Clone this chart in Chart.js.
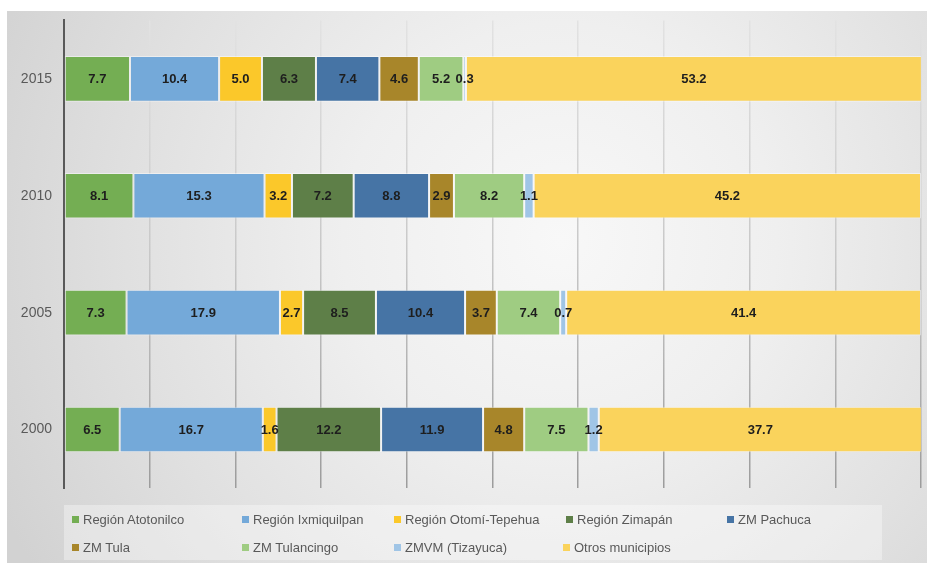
<!DOCTYPE html>
<html>
<head>
<meta charset="utf-8">
<script src="https://cdn.jsdelivr.net/npm/chart.js@4"></script>
<style>
  html, body { margin: 0; padding: 0; background: #ffffff; }
  #wrap { position: relative; width: 927px; height: 563px; overflow: hidden; }
  #c { position: absolute; left: 0; top: 0; }
  #legend { position: absolute; left: 64px; top: 505px; width: 818px; height: 55px; background: rgba(255,255,255,0.35); }
  .li { position: absolute; font-family: "Liberation Sans", Arial, sans-serif; font-size: 13px; color: #595959; white-space: nowrap; line-height: 16px; }
  .sw { display: inline-block; width: 7px; height: 7px; margin-right: 4px; vertical-align: 1px; }
</style>
</head>
<body>
<div id="wrap">
  <canvas id="c" width="927" height="563"></canvas>
  <div id="legend"></div>
</div>
<script>
const categories = ['2015', '2010', '2005', '2000'];

const seriesNames = [
  'Región Atotonilco', 'Región Ixmiquilpan', 'Región Otomí-Tepehua', 'Región Zimapán',
  'ZM Pachuca', 'ZM Tula', 'ZM Tulancingo', 'ZMVM (Tizayuca)', 'Otros municipios'
];

const regionAtotonilco   = [7.7, 8.1, 7.3, 6.5];
const regionIxmiquilpan  = [10.4, 15.3, 17.9, 16.7];
const regionOtomi        = [5.0, 3.2, 2.7, 1.6];
const regionZimapan      = [6.3, 7.2, 8.5, 12.2];
const zmPachuca          = [7.4, 8.8, 10.4, 11.9];
const zmTula             = [4.6, 2.9, 3.7, 4.8];
const zmTulancingo       = [5.2, 8.2, 7.4, 7.5];
const zmvmTizayuca       = [0.3, 1.1, 0.7, 1.2];
const otrosMunicipios    = [53.2, 45.2, 41.4, 37.7];

const xTicks = [0, 10, 20, 30, 40, 50, 60, 70, 80, 90, 100];

const seriesValues = [regionAtotonilco, regionIxmiquilpan, regionOtomi, regionZimapan,
  zmPachuca, zmTula, zmTulancingo, zmvmTizayuca, otrosMunicipios];

const colors = ['#74ae53', '#74a9d9', '#fbc82a', '#5e7f48', '#4674a5', '#a8862a', '#9fcc82', '#a0c5e6', '#fad35c'];

const datasets = seriesNames.map((name, i) => ({
  label: name,
  data: seriesValues[i],
  backgroundColor: colors[i],
  borderColor: 'rgba(255,255,255,0.45)',
  borderWidth: 1,
  borderSkipped: false,
  categoryPercentage: 1,
  barPercentage: 0.39
}));

const bgPlugin = {
  id: 'bg',
  beforeDraw(chart) {
    const ctx = chart.ctx;
    ctx.save();
    ctx.fillStyle = '#ffffff';
    ctx.fillRect(0, 0, chart.width, chart.height);
    const g = ctx.createRadialGradient(560, 240, 0, 560, 240, 620);
    g.addColorStop(0, '#f8f8f8');
    g.addColorStop(0.35, '#efefef');
    g.addColorStop(0.7, '#e0e0e0');
    g.addColorStop(1, '#d2d2d2');
    ctx.fillStyle = g;
    ctx.fillRect(7, 11, chart.width - 7, chart.height - 11);
    ctx.restore();
  }
};

const labelPlugin = {
  id: 'valueLabels',
  afterDatasetsDraw(chart) {
    const ctx = chart.ctx;
    ctx.save();
    ctx.font = 'bold 13px "Liberation Sans", Arial, sans-serif';
    ctx.fillStyle = '#1e1e1e';
    ctx.textAlign = 'center';
    ctx.textBaseline = 'middle';
    chart.data.datasets.forEach((ds, i) => {
      const meta = chart.getDatasetMeta(i);
      meta.data.forEach((el, j) => {
        const v = ds.data[j];
        const cx = (el.x + el.base) / 2;
        ctx.fillText(v.toFixed(1), cx, el.y + 1);
      });
    });
    ctx.restore();
  }
};

function gridColor(context) {
  const chart = context.chart;
  const ca = chart.chartArea;
  if (!ca) return '#c8c8c8';
  const g = chart.ctx.createLinearGradient(0, ca.top, 0, ca.bottom);
  g.addColorStop(0, '#e2e2e2');
  g.addColorStop(0.5, '#c8c8c8');
  g.addColorStop(1, '#9c9c9c');
  return g;
}

new Chart(document.getElementById('c'), {
  type: 'bar',
  data: { labels: categories, datasets: datasets },
  options: {
    indexAxis: 'y',
    responsive: false,
    animation: false,
    layout: { padding: { left: 0, top: 20, right: 6, bottom: 75 } },
    plugins: {
      legend: { display: false },
      tooltip: { enabled: false }
    },
    scales: {
      x: {
        stacked: true,
        min: 0,
        max: 100,
        afterBuildTicks(scale) { scale.ticks = xTicks.map(v => ({ value: v })); },
        afterFit(scale) { scale.height = 0; },
        ticks: { display: false },
        grid: { color: gridColor, lineWidth: 1.5, drawTicks: false },
        border: { display: false }
      },
      y: {
        stacked: true,
        afterFit(scale) { scale.width = 64; },
        ticks: {
          color: '#595959',
          padding: 12,
          font: { family: '"Liberation Sans", Arial, sans-serif', size: 14 }
        },
        grid: { display: false, drawTicks: false },
        border: { display: true, color: '#595959', width: 2 }
      }
    }
  },
  plugins: [bgPlugin, labelPlugin]
});

// HTML legend
const legendPos = [
  [8, 15], [178, 15], [330, 15], [502, 15], [663, 15],
  [8, 43], [178, 43], [330, 43], [499, 43]
];
const legend = document.getElementById('legend');
seriesNames.forEach((name, i) => {
  const d = document.createElement('div');
  d.className = 'li';
  d.style.left = legendPos[i][0] + 'px';
  d.style.top = (legendPos[i][1] - 8) + 'px';
  const sw = document.createElement('span');
  sw.className = 'sw';
  sw.style.background = colors[i];
  d.appendChild(sw);
  d.appendChild(document.createTextNode(name));
  legend.appendChild(d);
});
</script>
</body>
</html>
